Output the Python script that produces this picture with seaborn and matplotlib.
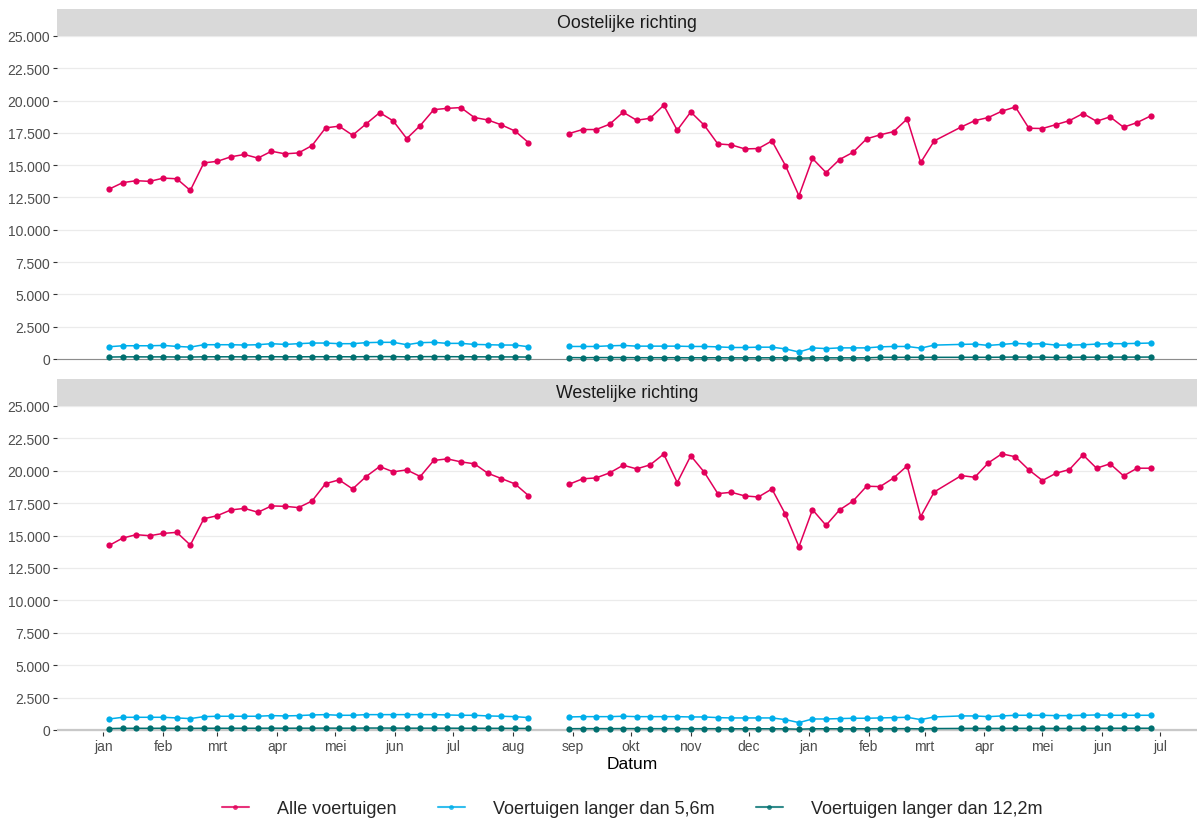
import matplotlib
matplotlib.use("Agg")
import matplotlib.pyplot as plt
import matplotlib.lines as mlines
import matplotlib.ticker as mticker
import pandas as pd
import seaborn as sns

# weekly counts, Jan 2019 - Jun 2020; weeks 32-33 are missing (line break), week 62 is missing (no break)
weeks = pd.date_range("2019-01-04", periods=78, freq="7D")
seg1_idx = list(range(0, 32))
seg2_idx = list(range(34, 62)) + list(range(63, 78))

series_names = ["Alle voertuigen", "Voertuigen langer dan 5,6m", "Voertuigen langer dan 12,2m"]
series_colors = ["#E2005A", "#00AEEA", "#006F6F"]
panel_names = ["Oostelijke richting", "Westelijke richting"]

month_labels = ["jan", "feb", "mrt", "apr", "mei", "jun", "jul", "aug", "sep", "okt", "nov", "dec",
                "jan", "feb", "mrt", "apr", "mei", "jun", "jul"]
month_ticks = pd.date_range("2019-01-01", "2020-07-01", freq="MS")

oost_alle = [13150, 13650, 13800, 13750, 14000, 13950, 13050, 15180, 15300, 15650, 15830, 15550, 16080,
             15880, 15950, 16520, 17890, 18020, 17320, 18200, 19070, 18430, 17060, 18070, 19300, 19400,
             19460, 18690, 18500, 18120, 17650, 16750,
             17450, 17760, 17760, 18170, 19100, 18480, 18630, 19640, 17710, 19120, 18090, 16650, 16570,
             16260, 16290, 16880, 14970, 12630, 15520, 14430, 15440, 16000, 17040, 17350, 17600, 18580,
             15210, 16880,
             17960, 18450, 18690, 19180, 19510, 17860, 17840, 18140, 18450, 19000, 18400, 18740, 17940,
             18300, 18810]
oost_56 = [950, 1025, 1025, 1025, 1050, 975, 920, 1105, 1105, 1105, 1080, 1105, 1185, 1130, 1185, 1235,
           1235, 1185, 1185, 1265, 1290, 1290, 1105, 1265, 1290, 1210, 1210, 1130, 1105, 1080, 1080, 950,
           970, 970, 970, 1020, 1050, 995, 995, 995, 995, 970, 970, 940, 890, 890, 915, 915, 780, 540,
           860, 805, 860, 860, 860, 940, 970, 970, 840, 1075,
           1130, 1155, 1050, 1130, 1210, 1155, 1185, 1075, 1075, 1100, 1155, 1185, 1185, 1210, 1235]
oost_122 = [150, 165, 165, 160, 165, 155, 150, 170, 170, 170, 165, 170, 175, 170, 170, 175, 175, 175,
            170, 180, 185, 185, 165, 180, 185, 180, 175, 170, 165, 160, 160, 150,
            110, 100, 110, 110, 110, 100, 100, 100, 100, 95, 95, 95, 90, 90, 90, 95, 90, 60, 90, 90,
            90, 90, 90, 130, 130, 130, 130, 130,
            130, 135, 130, 140, 150, 145, 145, 120, 130, 140, 140, 145, 145, 145, 150]

west_alle = [14240, 14810, 15070, 14990, 15170, 15250, 14270, 16300, 16540, 16980, 17100, 16800, 17290,
             17260, 17160, 17670, 19010, 19300, 18600, 19560, 20330, 19920, 20070, 19560, 20800, 20920,
             20690, 20540, 19810, 19400, 18990, 18090,
             18960, 19380, 19450, 19840, 20430, 20150, 20460, 21290, 19090, 21160, 19890, 18240, 18340,
             18060, 17980, 18600, 16640, 14140, 17000, 15790, 16980, 17670, 18810, 18780, 19450, 20380,
             16460, 18370,
             19630, 19500, 20610, 21310, 21080, 20070, 19250, 19810, 20100, 21230, 20200, 20540, 19610,
             20200, 20200]
west_56 = [850, 980, 980, 980, 980, 930, 880, 1030, 1060, 1060, 1060, 1060, 1110, 1085, 1110, 1160,
           1185, 1135, 1135, 1185, 1185, 1185, 1185, 1185, 1185, 1160, 1135, 1135, 1085, 1060, 1030, 955,
           1005, 1030, 1030, 1030, 1060, 1030, 1030, 1030, 1030, 1005, 1005, 955, 930, 930, 930, 930,
           800, 570, 850, 850, 880, 905, 905, 930, 955, 980, 800, 1005,
           1085, 1085, 1030, 1085, 1135, 1135, 1135, 1110, 1110, 1135, 1160, 1135, 1135, 1135, 1135]
west_122 = [110, 130, 130, 130, 135, 130, 125, 135, 135, 135, 135, 135, 140, 135, 140, 140, 145, 140,
            140, 150, 150, 145, 140, 140, 140, 140, 135, 135, 130, 130, 125, 120,
            100, 105, 105, 105, 110, 105, 105, 105, 105, 100, 100, 100, 95, 95, 95, 95, 90, 60, 95, 95,
            95, 95, 95, 100, 100, 105, 90, 110,
            120, 125, 120, 125, 130, 130, 130, 120, 125, 130, 130, 135, 135, 135, 135]

W, H = 1197, 820


def build_frame():
    idx = seg1_idx + seg2_idx
    segment = [1] * len(seg1_idx) + [2] * len(seg2_idx)
    rows = []
    values = {
        panel_names[0]: [oost_alle, oost_56, oost_122],
        panel_names[1]: [west_alle, west_56, west_122],
    }
    for panel, series in values.items():
        for name, vals in zip(series_names, series):
            for i, s, v in zip(idx, segment, vals):
                rows.append({"richting": panel, "type": name, "segment": s,
                             "datum": weeks[i], "aantal": v})
    return pd.DataFrame(rows)


def thousands(v, _):
    return f"{int(v):,}".replace(",", ".")


def main():
    df = build_frame()
    sns.set_theme(style="white")
    plt.rcParams["font.family"] = ["Liberation Sans", "DejaVu Sans"]

    fig = plt.figure(figsize=(W / 100, H / 100), dpi=100)

    # pixel layout: (top of strip, top of panel, bottom of panel)
    layout = [(10, 37, 362), (380, 407, 733)]
    palette = dict(zip(series_names, series_colors))
    xmin, xmax = pd.Timestamp("2018-12-08"), pd.Timestamp("2020-07-20")

    for k, (panel, (s_top, p_top, p_bot)) in enumerate(zip(panel_names, layout)):
        ax = fig.add_axes([57 / W, (H - p_bot) / H, 1140 / W, (p_bot - p_top) / H])
        strip = fig.add_axes([57 / W, (H - p_top) / H, 1140 / W, (p_top - s_top) / H])
        strip.set_facecolor("#D9D9D9")
        strip.set_xticks([])
        strip.set_yticks([])
        for sp in strip.spines.values():
            sp.set_visible(False)
        strip.text(0.5, 0.5, panel, ha="center", va="center", fontsize=12.8, color="#1A1A1A",
                   transform=strip.transAxes)

        sub = df[df["richting"] == panel]
        sns.lineplot(data=sub, x="datum", y="aantal", hue="type", hue_order=series_names,
                     palette=palette, units="segment", estimator=None, marker="o",
                     markersize=4.5, markeredgewidth=0, linewidth=1.1, legend=False, ax=ax)

        ax.set_xlim(xmin, xmax)
        ax.set_ylim(-155, 25000)
        ax.set_yticks(range(0, 25001, 2500))
        ax.yaxis.set_major_formatter(mticker.FuncFormatter(thousands))
        ax.yaxis.grid(True, color="#EBEBEB", linewidth=0.9)
        ax.xaxis.grid(False)
        ax.set_axisbelow(True)
        for sp in ax.spines.values():
            sp.set_visible(False)
        ax.set_ylabel("")
        ax.tick_params(axis="y", left=True, length=3, width=0.8, color="#333333",
                       labelsize=10, labelcolor="#4D4D4D", pad=2)

        if k == 0:
            ax.axhline(0, color="#8C8C8C", linewidth=0.8, zorder=1)
            ax.set_xticks([])
            ax.set_xlabel("")
        else:
            ax.axhline(0, color="#C8C8C8", linewidth=1.6, zorder=1)
            ax.set_xticks(month_ticks)
            ax.set_xticklabels(month_labels)
            ax.tick_params(axis="x", bottom=True, length=3, width=0.8, color="#333333",
                           labelsize=10, labelcolor="#4D4D4D", pad=2)
            ax.set_xlabel("Datum", fontsize=12.5, color="black", labelpad=0)
            ax.xaxis.set_label_coords(0.505, -0.075)

    handles = [mlines.Line2D([], [], color=c, marker="o", markersize=3.5, markeredgewidth=0,
                             linewidth=1.5, alpha=0.8, label=n)
               for n, c in zip(series_names, series_colors)]
    fig.legend(handles=handles, loc="center", bbox_to_anchor=(632 / W, (H - 810) / H), ncol=3,
               frameon=False, fontsize=13, handlelength=1.5, handletextpad=1.55,
               columnspacing=2.3)

    fig.savefig("out.png", dpi=100)
    plt.close(fig)


if __name__ == "__main__":
    main()
